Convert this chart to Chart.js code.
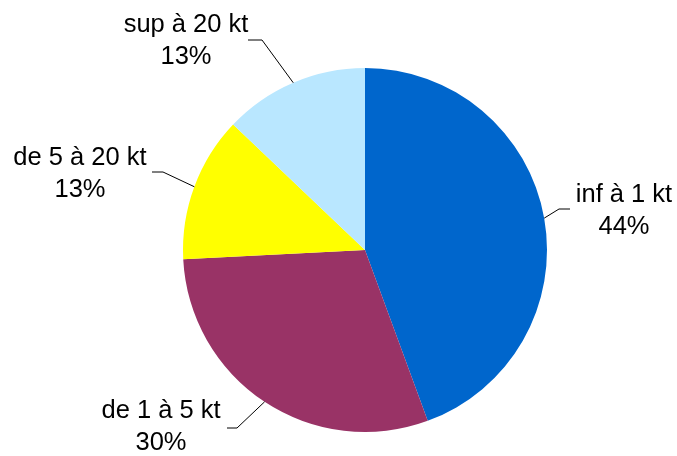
<!DOCTYPE html>
<html>
<head>
<meta charset="utf-8">
<script src="https://cdn.jsdelivr.net/npm/chart.js@4/dist/chart.umd.min.js"></script>
<style>
  html, body { margin: 0; padding: 0; background: #fff; }
  #wrap { width: 677px; height: 456px; }
</style>
</head>
<body>
<div id="wrap"><canvas id="myChart" width="677" height="456"></canvas></div>
<script>
var categories = ['inf à 1 kt', 'de 1 à 5 kt', 'de 5 à 20 kt', 'sup à 20 kt'];
var values = [44.4, 29.8, 12.9, 12.9];
var colors = ['#0066CC', '#993366', '#FFFF00', '#B9E7FF'];

// label placement: elbow of leader line, end of leader line, text centre, first baseline
var labelPos = [
	{ elbow: [559, 209], end: [570, 209], tx: 624, ty: 202 },
	{ elbow: [237, 428], end: [227, 428], tx: 161, ty: 418 },
	{ elbow: [163, 172], end: [152, 172], tx: 80, ty: 165 },
	{ elbow: [262, 40], end: [248, 40], tx: 186, ty: 32 }
];

var pieLabels = {
	id: 'pieLabels',
	afterDatasetsDraw: function(chart) {
		var ctx = chart.ctx;
		var meta = chart.getDatasetMeta(0);
		var total = values.reduce(function(a, b) { return a + b; }, 0);
		ctx.save();
		meta.data.forEach(function(arc, i) {
			var p = labelPos[i];
			var mid = (arc.startAngle + arc.endAngle) / 2;
			var ax = arc.x + Math.cos(mid) * arc.outerRadius;
			var ay = arc.y + Math.sin(mid) * arc.outerRadius;
			ctx.strokeStyle = '#000';
			ctx.lineWidth = 1;
			ctx.beginPath();
			ctx.moveTo(ax, ay);
			ctx.lineTo(p.elbow[0], p.elbow[1]);
			ctx.lineTo(p.end[0], p.end[1]);
			ctx.stroke();
			ctx.fillStyle = '#000';
			ctx.font = '25.5px "Liberation Sans", Arial, sans-serif';
			ctx.textAlign = 'center';
			ctx.textBaseline = 'alphabetic';
			ctx.fillText(categories[i], p.tx, p.ty);
			ctx.fillText(Math.round(values[i] / total * 100) + '%', p.tx, p.ty + 32);
		});
		ctx.restore();
	}
};

var config = {
	type: 'pie',
	data: {
		labels: categories,
		datasets: [{
			data: values,
			backgroundColor: colors,
			borderWidth: 0
		}]
	},
	options: {
		responsive: false,
		animation: false,
		layout: { padding: { left: 183, right: 130, top: 68, bottom: 24 } },
		plugins: {
			legend: { display: false },
			tooltip: { enabled: false }
		}
	},
	plugins: [pieLabels]
};

var myChart = new Chart(document.getElementById('myChart'), config);
</script>
</body>
</html>
